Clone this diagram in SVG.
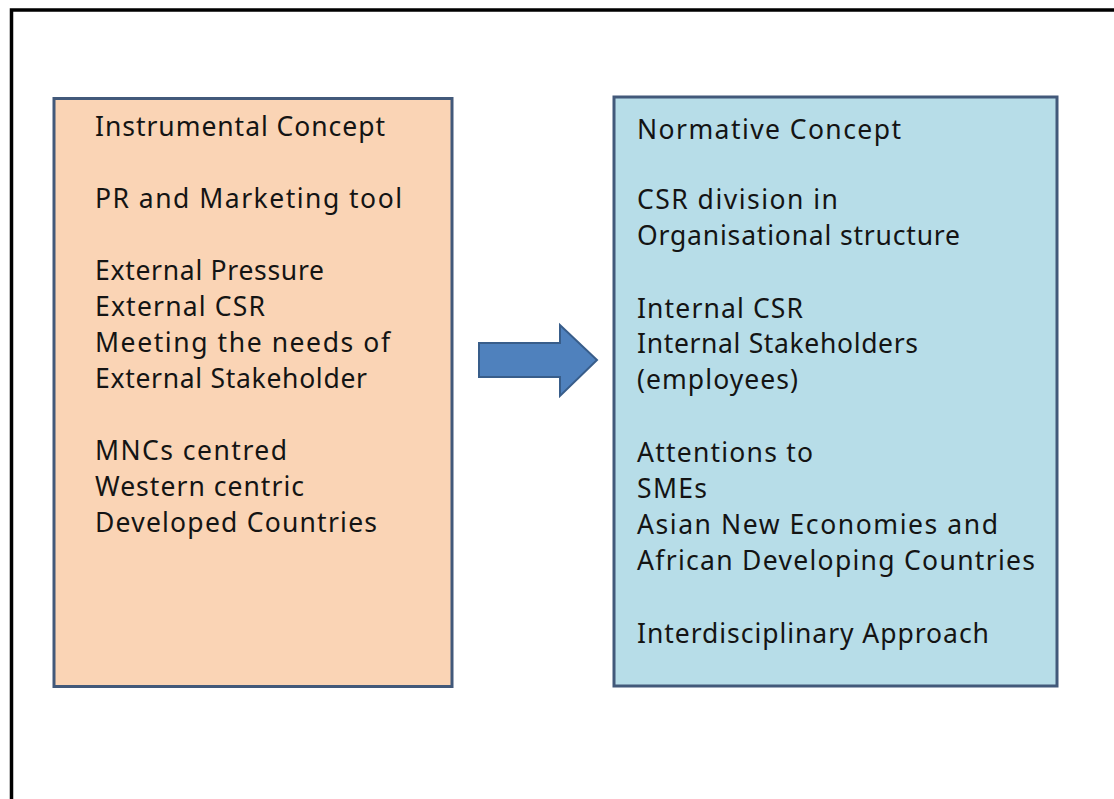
<svg xmlns="http://www.w3.org/2000/svg" width="1114" height="799" viewBox="0 0 1114 799">
  <style>
    .frame { fill: none; stroke: #000; stroke-width: 3.5; }
    .box { stroke: #42597a; stroke-width: 3; }
    .warm { fill: #fad4b5; }
    .cool { fill: #b7dde8; }
    .label { font-family: "Noto Sans", "Open Sans", "Liberation Sans", sans-serif; font-size: 26.5px; fill: #141414; }
    .arrow { fill: #4f81bd; stroke: #385d8a; stroke-width: 2; stroke-linejoin: miter; }
  </style>
  <rect width="1114" height="799" fill="#fff"/>
  <!-- page frame, open to the right and bottom -->
  <path class="frame" d="M11.5,799 V10 H1114"/>

  <g id="instrumental">
    <rect class="box warm" x="54" y="98.5" width="398" height="588"/>
    <text class="label" x="95" y="136" textLength="290">Instrumental Concept</text>
    <text class="label" x="95" y="208" textLength="307">PR and Marketing tool</text>
    <text class="label" x="95" y="280" textLength="229">External Pressure</text>
    <text class="label" x="95" y="316" textLength="170">External CSR</text>
    <text class="label" x="95" y="352" textLength="295">Meeting the needs of</text>
    <text class="label" x="95" y="388" textLength="272">External Stakeholder</text>
    <text class="label" x="95" y="460" textLength="192">MNCs centred</text>
    <text class="label" x="95" y="496" textLength="209">Western centric</text>
    <text class="label" x="95" y="532" textLength="282">Developed Countries</text>
  </g>

  <g id="connectors">
    <path class="arrow" d="M479,343 H560 V325 L597,360 L560,396 V377 H479 Z"/>
  </g>

  <g id="normative">
    <rect class="box cool" x="614" y="97" width="443" height="589"/>
    <text class="label" x="637" y="139" textLength="264">Normative Concept</text>
    <text class="label" x="637" y="209" textLength="201">CSR division in</text>
    <text class="label" x="637" y="245" textLength="323">Organisational structure</text>
    <text class="label" x="637" y="318" textLength="166">Internal CSR</text>
    <text class="label" x="637" y="353" textLength="281">Internal Stakeholders</text>
    <text class="label" x="637" y="389" textLength="161">(employees)</text>
    <text class="label" x="637" y="462" textLength="176">Attentions to</text>
    <text class="label" x="637" y="498" textLength="70">SMEs</text>
    <text class="label" x="637" y="534" textLength="361">Asian New Economies and</text>
    <text class="label" x="637" y="570" textLength="398">African Developing Countries</text>
    <text class="label" x="637" y="643" textLength="352">Interdisciplinary Approach</text>
  </g>
</svg>
